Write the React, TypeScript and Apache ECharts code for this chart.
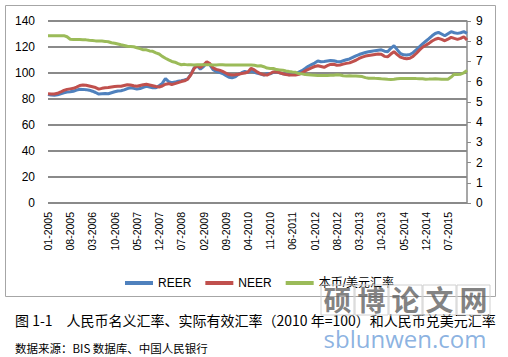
import React, { useEffect, useRef } from "react";
import * as echarts from "echarts";

const startYear = 2005;
const monthCount = 133;
const categories: string[] = [];
for (let i = 0; i < monthCount; i++) {
  const y = startYear + Math.floor(i / 12);
  const m = (i % 12) + 1;
  categories.push((m < 10 ? "0" + m : "" + m) + "-" + y);
}

const reer = [
  83.5, 83.0, 82.8, 83.2, 84.0, 84.8, 85.3, 85.6, 86.0, 86.8, 87.5, 87.4,
  87.2, 86.8, 86.0, 85.0, 83.8, 84.0, 84.2, 84.0, 84.8, 85.6, 86.2, 86.4,
  87.0, 88.0, 88.6, 88.2, 87.6, 88.0, 89.0, 89.8, 89.2, 88.6, 88.6, 90.2,
  92.0, 95.8, 93.4, 92.6, 93.0, 93.6, 94.0, 94.6, 95.4, 99.0, 103.8, 105.6,
  103.0, 105.0, 107.6, 106.2, 102.5, 101.2, 100.5, 99.6, 98.2, 96.8, 96.4, 97.0,
  99.0, 100.2, 101.2, 100.4, 101.6, 100.6, 99.8, 99.2, 98.4, 99.6, 99.4, 100.4,
  101.0, 100.2, 99.4, 99.0, 98.6, 99.2, 99.6, 100.6, 101.8, 103.4, 105.2, 106.4,
  107.6, 109.2, 108.6, 108.8, 109.2, 109.6, 109.4, 108.8, 108.6, 109.4, 110.2, 110.8,
  112.0, 113.2, 114.2, 115.0, 115.8, 116.4, 116.8, 117.2, 117.5, 117.8, 116.8, 116.4,
  119.0, 121.0, 118.0, 115.0, 114.0, 113.8, 114.2, 115.6, 117.8, 120.2, 122.4, 124.4,
  126.4, 128.6, 130.4, 131.3, 130.0, 128.6, 130.2, 131.8, 131.0, 130.5, 131.0, 131.8,
  130.5,
];

const neer = [
  84.0, 83.8, 83.8, 84.4, 85.4, 86.6, 87.4, 87.8, 88.2, 89.2, 90.4, 90.8,
  90.6, 90.0, 89.4, 88.8, 87.6, 88.2, 88.6, 88.8, 89.2, 89.6, 89.8, 89.8,
  90.4, 91.0, 90.8, 90.2, 89.8, 90.4, 91.0, 91.3, 90.8, 90.2, 89.6, 89.2,
  90.0, 91.4, 91.8, 91.2, 91.8, 92.6, 93.4, 94.0, 95.2, 98.6, 103.4, 105.8,
  104.2, 106.2, 108.7, 107.2, 104.0, 102.8, 102.2, 101.2, 100.0, 98.8, 98.4, 98.6,
  99.0, 99.6, 100.0, 100.8, 103.6, 102.4, 100.6, 99.4, 98.6, 98.4, 99.6, 100.8,
  101.0, 100.2, 99.4, 98.8, 98.4, 98.4, 98.4, 99.0, 100.0, 101.6, 102.8, 104.0,
  105.0, 105.6, 105.0, 104.4, 105.6, 106.6, 106.7, 106.0, 106.2, 106.8, 107.4, 107.8,
  108.8, 109.8, 111.2, 112.2, 113.0, 113.4, 113.8, 114.2, 114.6, 114.4, 112.8, 112.4,
  114.6, 116.4, 114.2, 112.2, 111.4, 111.0, 111.4, 112.8, 115.0, 117.6, 119.8, 121.4,
  122.8, 124.6, 126.0, 126.7, 125.8, 124.8, 126.0, 127.4, 126.6, 125.9, 126.6, 127.9,
  125.4,
];

const cnyUsd = [
  8.2765, 8.2765, 8.2765, 8.2765, 8.2765, 8.2765, 8.22, 8.10, 8.09, 8.085, 8.083, 8.076,
  8.067, 8.049, 8.035, 8.017, 8.015, 8.007, 7.992, 7.973, 7.924, 7.9, 7.862, 7.824,
  7.79, 7.75, 7.739, 7.725, 7.677, 7.633, 7.576, 7.573, 7.52, 7.501, 7.423, 7.368,
  7.248, 7.16, 7.075, 6.999, 6.963, 6.889, 6.838, 6.856, 6.831, 6.835, 6.828, 6.842,
  6.838, 6.835, 6.834, 6.832, 6.829, 6.83, 6.832, 6.832, 6.829, 6.828, 6.827, 6.828,
  6.827, 6.827, 6.826, 6.826, 6.827, 6.812, 6.775, 6.787, 6.739, 6.673, 6.653, 6.651,
  6.599, 6.583, 6.567, 6.532, 6.499, 6.475, 6.46, 6.402, 6.385, 6.356, 6.345, 6.326,
  6.317, 6.302, 6.31, 6.302, 6.307, 6.318, 6.323, 6.338, 6.329, 6.293, 6.285, 6.29,
  6.279, 6.285, 6.271, 6.252, 6.199, 6.172, 6.172, 6.166, 6.161, 6.148, 6.137, 6.117,
  6.105, 6.119, 6.149, 6.159, 6.161, 6.154, 6.154, 6.161, 6.152, 6.144, 6.143, 6.119,
  6.127, 6.136, 6.141, 6.13, 6.116, 6.116, 6.116, 6.229, 6.37, 6.359, 6.37, 6.44,
  6.556,
];

const seriesNames = ["REER", "NEER", "本币/美元汇率"];
const captionText = "图 1-1　人民币名义汇率、实际有效汇率（2010 年=100）和人民币兑美元汇率";
const sourceText = "数据来源：BIS 数据库、中国人民银行";
const watermarkChars = ["硕", "博", "论", "文", "网"];
const watermarkUrl = "sblunwen.com";

export default function App() {
  const ref = useRef<HTMLDivElement>(null);
  useEffect(() => {
    if (!ref.current) return;
    const chart = echarts.init(ref.current, null, { renderer: "svg" });
    const axisFont = { fontFamily: "Liberation Sans, Arial, sans-serif", fontSize: 12, color: "#000" };
    const graphics: any[] = [
      {
        type: "rect",
        shape: { x: 5.5, y: 5.5, width: 490, height: 291 },
        style: { fill: "none", stroke: "#a6a6a6", lineWidth: 1 },
        z: -10,
      },
      {
        type: "text",
        x: 15,
        y: 320,
        style: {
          text: captionText,
          font: "14px 'Noto Sans CJK SC', sans-serif",
          fill: "#000",
          textVerticalAlign: "middle",
        },
        z: 10,
      },
      {
        type: "text",
        x: 15,
        y: 348,
        style: {
          text: sourceText,
          font: "11.5px 'Noto Sans CJK SC', sans-serif",
          fill: "#000",
          textVerticalAlign: "middle",
        },
        z: 10,
      },
    ];
    watermarkChars.forEach((ch, i) => {
      graphics.push({
        type: "rect",
        shape: { x: 321 + i * 34, y: 285, width: 33, height: 30 },
        style: { fill: "none", stroke: "#d0d0d0", lineWidth: 1 },
        z: 20,
      });
      graphics.push({
        type: "text",
        x: 337.5 + i * 34,
        y: 299,
        style: {
          text: ch,
          font: "bold 28px 'Noto Sans CJK SC', sans-serif",
          fill: "rgba(90,90,90,0.75)",
          textAlign: "center",
          textVerticalAlign: "middle",
        },
        z: 21,
      });
    });
    graphics.push({
      type: "text",
      x: 405,
      y: 338,
      style: {
        text: watermarkUrl,
        font: "24px 'Open Sans', sans-serif",
        fill: "rgba(120,165,220,0.85)",
        textAlign: "center",
        textVerticalAlign: "middle",
      },
      z: 21,
    });

    chart.setOption({
      animation: false,
      backgroundColor: "#fff",
      grid: { left: 48, right: 41, top: 21, bottom: 154, containLabel: false },
      legend: {
        data: seriesNames,
        left: 120,
        top: 272,
        icon: "rect",
        itemWidth: 28,
        itemHeight: 4,
        itemGap: 14,
        textStyle: { fontSize: 12, color: "#000", fontFamily: "Liberation Sans, 'Noto Sans CJK SC', sans-serif" },
      },
      xAxis: {
        type: "category",
        data: categories,
        boundaryGap: false,
        axisLine: { show: false },
        axisTick: { show: false },
        axisLabel: {
          interval: 6,
          rotate: 90,
          margin: 9,
          fontSize: 10.5,
          color: "#000",
          fontFamily: "Liberation Sans, Arial, sans-serif",
        },
        splitLine: { show: false },
      },
      yAxis: [
        {
          type: "value",
          min: 0,
          max: 140,
          interval: 20,
          axisLine: { show: false },
          axisTick: { show: false },
          axisLabel: { ...axisFont, margin: 13 },
          splitLine: { show: true, lineStyle: { color: "#8a8a8a", width: 2 } },
        },
        {
          type: "value",
          min: 0,
          max: 9,
          interval: 1,
          position: "right",
          axisLine: { show: true, lineStyle: { color: "#8a8a8a", width: 1.5 } },
          axisTick: { show: true, length: 4, lineStyle: { color: "#8a8a8a" } },
          axisLabel: { ...axisFont, margin: 9 },
          splitLine: { show: false },
        },
      ],
      series: [
        {
          name: seriesNames[0],
          type: "line",
          data: reer,
          symbol: "none",
          lineStyle: { color: "#4F81BD", width: 3 },
          itemStyle: { color: "#4F81BD" },
        },
        {
          name: seriesNames[1],
          type: "line",
          data: neer,
          symbol: "none",
          lineStyle: { color: "#C0504D", width: 3 },
          itemStyle: { color: "#C0504D" },
        },
        {
          name: seriesNames[2],
          type: "line",
          yAxisIndex: 1,
          data: cnyUsd,
          symbol: "none",
          lineStyle: { color: "#9BBB59", width: 3 },
          itemStyle: { color: "#9BBB59" },
        },
      ],
      graphic: graphics,
    });
    return () => chart.dispose();
  }, []);
  return <div ref={ref} style={{ width: 508, height: 357, position: "absolute", left: 0, top: 0 }} />;
}
